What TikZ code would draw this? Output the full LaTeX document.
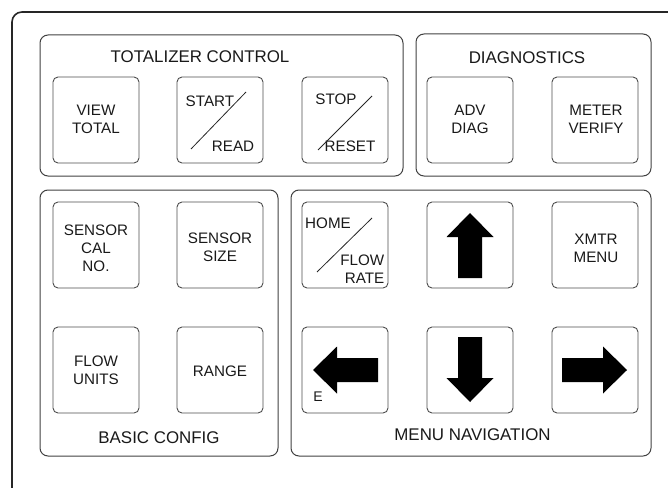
\documentclass[tikz,border=0pt]{standalone}
\usepackage{fontspec}
\setmainfont{Liberation Sans}
\begin{document}
\begin{tikzpicture}[x=1pt,y=-1pt,
  grp/.style={draw=black!75,line width=1pt,rounded corners=8pt},
  btn/.style={draw=black!70,line width=0.9pt,rounded corners=5pt,minimum width=86pt,minimum height=86pt,inner sep=0pt},
  lbl/.style={inner sep=0pt,align=center,font=\fontsize{15.2}{18}\selectfont,text=black!90},
  ttl/.style={inner sep=0pt,font=\fontsize{16.9}{19}\selectfont,text=black!90},
  slash/.style={draw=black!85,line width=0.8pt},
  navarrow/.pic={\fill[black] (0,-32) -- (23.5,-8) -- (12,-8) -- (12,33) -- (-12,33) -- (-12,-8) -- (-23.5,-8) -- cycle;}
]
\useasboundingbox (0,0) rectangle (668,487);
% outer frame
\draw[black!85,line width=1.6pt,rounded corners=10pt] (12,490) -- (12,12) -- (672,12);
% groups
\draw[grp] (40,35) rectangle (403,176);
\draw[grp] (416,34) rectangle (651,176);
\draw[grp] (40,190) rectangle (278,456);
\draw[grp] (291,190) rectangle (651,456);
% titles
\node[ttl] (t1) at (200,57) {TOTALIZER CONTROL};
\node[ttl] (t2) at (527,57.5) {DIAGNOSTICS};
\node[ttl] (t3) at (159,437.5) {BASIC CONFIG};
\node[ttl] (t4) at (472.5,435) {MENU NAVIGATION};
% buttons
\node[btn] (view) at (96,120) {};
\node[btn] (start) at (220,120) {};
\node[btn] (stop) at (345,120) {};
\node[btn] (adv) at (470,120) {};
\node[btn] (meter) at (595,120) {};
\node[btn] (scal) at (96,245) {};
\node[btn] (ssize) at (220,245) {};
\node[btn] (funits) at (96,370) {};
\node[btn] (range) at (220,370) {};
\node[btn] (home) at (345,245) {};
\node[btn] (up) at (470,245) {};
\node[btn] (xmtr) at (595,245) {};
\node[btn] (left) at (345,370) {};
\node[btn] (down) at (470,370) {};
\node[btn] (right) at (595,370) {};
% labels
\node[lbl] (lview) at (96,119) {VIEW\\TOTAL};
\node[lbl] (ladv) at (470,119.5) {ADV\\DIAG};
\node[lbl] (lmeter) at (596,119.5) {METER\\VERIFY};
\node[lbl] (lscal) at (96,248.5) {SENSOR\\CAL\\NO.};
\node[lbl] (lssize) at (220,247) {SENSOR\\SIZE};
\node[lbl] (lfunits) at (96,370) {FLOW\\UNITS};
\node[lbl] (lrange) at (220,371) {RANGE};
\node[lbl] (lxmtr) at (596,248) {XMTR\\MENU};
\node[lbl,anchor=west] (lstart) at (185.5,101) {START};
\node[lbl] (lread) at (233,146) {READ};
\node[lbl] (lstop) at (336,99) {STOP};
\node[lbl] (lreset) at (350,146) {RESET};
\node[lbl] (lhome) at (328,223) {HOME};
\node[lbl,align=right,anchor=east] (lflow) at (384.5,269) {FLOW\\RATE};
\node[lbl,font=\fontsize{14}{16}\selectfont] (le) at (318,397) {E};
% slashes
\draw[slash] ([shift={(-29,29)}]start.center) -- ([shift={(26,-28)}]start.center);
\draw[slash] ([shift={(-27,30)}]stop.center) -- ([shift={(27,-24)}]stop.center);
\draw[slash] ([shift={(-28,27)}]home.center) -- ([shift={(27,-27)}]home.center);
% arrows
\pic at (up) {navarrow};
\pic[rotate=180] at (down) {navarrow};
\pic[rotate=90] at (left) {navarrow};
\pic[rotate=-90] at (right) {navarrow};
\end{tikzpicture}
\end{document}
